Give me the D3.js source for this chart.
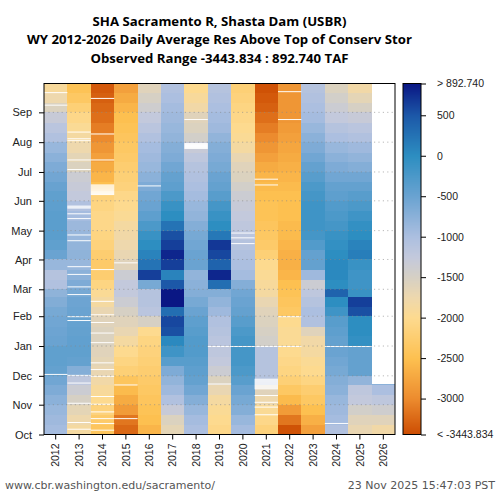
<!DOCTYPE html>
<html>
<head>
<meta charset="utf-8">
<script src="https://cdn.jsdelivr.net/npm/d3@7"></script>
<style>
  body { margin: 0; background: #fff; }
  svg { display: block; font-family: "DejaVu Sans", sans-serif; }
</style>
</head>
<body>
<script>
// Water years shown as columns
const years = [2012, 2013, 2014, 2015, 2016, 2017, 2018, 2019, 2020, 2021, 2022, 2023, 2024, 2025, 2026];
const months = ["Oct", "Nov", "Dec", "Jan", "Feb", "Mar", "Apr", "May", "Jun", "Jul", "Aug", "Sep"];
const monthDays = [31, 30, 31, 31, 28, 31, 30, 31, 30, 31, 31, 30];

// Res above top of conservation storage (TAF), one value per 10-day period (Oct 1-10 ... Sep 21-30)
const v2012 = [-950, -900, -850, -750, -650, -550, -450, -420, -420, -500, -520, -550, -600, -680, -780, -1050, -1100, -850, -500, -420, -380, -380, -380, -400, -420, -480, -560, -650, -750, -850, -1050, -1150, -1300, -1550, -1750, -1900];
const v2013 = [-1850, -1750, -1650, -1500, -1350, -1200, -700, -450, -420, -430, -450, -470, -500, -520, -600, -650, -750, -850, -780, -800, -850, -880, -950, -1050, -1250, -1300, -1350, -1550, -1650, -1750, -1850, -1950, -2050, -2200, -2350, -2450];
const v2014 = [-2400, -2300, -2150, -2000, -1900, -1800, -1700, -1650, -1600, -1550, -1550, -1600, -1700, -1850, -1950, -2100, -2250, -2300, -2250, -2150, -2100, -2050, -2050, -2100, -2150, -2500, -2600, -2700, -2800, -2900, -3000, -3100, -3200, -3250, -3300, -3350];
const v2015 = [-3250, -3150, -2850, -2700, -2550, -2400, -2200, -2100, -2000, -1850, -1700, -1600, -1500, -1350, -1250, -1250, -1350, -1600, -1700, -1750, -1800, -1850, -1950, -2000, -2050, -2150, -2200, -2250, -2300, -2350, -2400, -2450, -2500, -2600, -2700, -2800];
const v2016 = [-2600, -2500, -2450, -2400, -2350, -2300, -2250, -2200, -2150, -2100, -2000, -1500, -1150, -1100, -1100, -600, 650, 250, 100, 0, -100, -250, -400, -500, -550, -650, -750, -850, -900, -950, -1050, -1150, -1250, -1400, -1500, -1600];
const v2017 = [-1650, -1550, -1300, -1050, -900, -800, -650, -350, -150, 50, 550, 600, 300, 900, 900, 500, 100, 650, 800, 650, 550, 250, 0, -100, -250, -400, -450, -550, -650, -700, -800, -850, -900, -950, -1000, -1050];
const v2018 = [-1000, -950, -850, -700, -550, -450, -400, -350, -300, -300, -350, -400, -500, -600, -700, -750, -800, -500, -500, -550, -600, -700, -800, -850, -950, -1000, -1050, -1100, -1200, -1300, -1450, -1550, -1600, -1800, -1900, -2000];
const v2019 = [-2050, -2000, -1950, -1850, -1700, -1550, -1350, -1250, -1200, -1150, -1100, -1050, -900, -800, -700, 300, 800, 400, 600, 700, 200, 0, -100, -200, -350, -450, -500, -600, -650, -700, -800, -900, -950, -1000, -1050, -1100];
const v2020 = [-950, -850, -700, -600, -500, -350, -250, -200, -200, -200, -250, -350, -450, -500, -550, -700, -950, -1000, -1050, -1100, -1150, -1200, -1250, -1300, -1350, -1450, -1550, -1600, -1700, -1850, -1950, -2000, -2050, -2100, -2150, -2200];
const v2021 = [-2150, -2050, -1950, -1750, -1600, -1100, -1100, -1100, -1100, -1450, -1500, -1550, -1600, -1700, -1850, -1900, -1950, -2000, -2200, -2300, -2350, -2400, -2450, -2450, -2500, -2550, -2600, -2700, -2800, -2900, -3000, -3100, -3200, -3300, -3350, -3400];
const v2022 = [-3400, -3150, -2850, -2550, -2350, -2200, -2100, -2050, -2000, -1950, -1950, -2000, -2350, -2400, -2450, -2500, -2600, -2650, -2650, -2600, -2550, -2550, -2500, -2500, -2500, -2550, -2600, -2650, -2700, -2750, -2800, -2850, -2900, -2900, -2900, -2900];
const v2023 = [-2800, -2650, -2500, -2350, -2250, -2100, -2000, -1950, -1850, -1800, -1600, -1050, -1000, -1100, -1200, -1350, -900, -450, -450, -300, -200, -150, -150, -150, -200, -250, -350, -450, -550, -650, -750, -850, -950, -1000, -1050, -1100];
const v2024 = [-1050, -950, -900, -850, -750, -700, -600, -550, -500, -450, -400, -350, -150, 0, 400, 0, 50, 50, 0, -50, -100, -200, -250, -300, -400, -450, -550, -650, -750, -850, -1000, -1100, -1250, -1350, -1450, -1550];
const v2025 = [-1700, -1600, -1450, -1250, -1200, -800, -450, -450, -450, -50, 0, 0, 550, 650, -100, -150, -150, -100, 150, 100, 0, -50, -150, -250, -350, -450, -550, -700, -800, -900, -1050, -1150, -1300, -1500, -1650, -1800];
const v2026 = [-1800, -1600, -1400, -1200, -1000, -750];
const series = [v2012, v2013, v2014, v2015, v2016, v2017, v2018, v2019, v2020, v2021, v2022, v2023, v2024, v2025, v2026];
const lastDay2026 = 52; // data through Nov 21

// missing days (day of water year, 0 = Oct 1)
const gaps = [
  [62, 342, 355],
  [5, 12, 32, 53, 61, 118, 122, 145, 153, 166, 174, 201, 207, 224, 229, 235, 236, 237, 275, 285, 305, 307, 314],
  [4, 11, 16, 23, 31, 39, 60, 67, 74, 95, 105, 116, 124, 138, 171, 249, 250, 251, 252, 253, 254, 255, 256, 257, 258, 259, 285, 312, 349],
  [16, 51, 178],
  [258],
  [],
  [297, 298, 299, 300, 301, 302, 327],
  [52, 91],
  [91, 198, 204, 209],
  [20, 28, 33, 40, 47, 48, 49, 50, 51, 52, 53, 54, 55, 56, 57, 91, 259, 265],
  [91, 122, 327, 356],
  [],
  [11, 91],
  [91],
  []
];

const valueMin = -3443.834, valueMax = 892.740;
const colorTicks = [500, 0, -500, -1000, -1500, -2000, -2500, -3000];
const colorStops = [-3443.834, -3000, -2500, -2000, -1750, -1500, -1250, -1000, -500, 0, 500, 892.740];
const colorRamp = ["#cc4c02", "#ec8b2e", "#fdc050", "#fdda8f", "#eed8ad", "#d6d0c4", "#c3c9dc", "#acbfe0", "#6aa3d1", "#2d8ec1", "#1c58a8", "#0a1784"];

const svg = d3.select("body").append("svg").attr("width", 500).attr("height", 500);
const plot = { left: 44, right: 395, top: 83.5, bottom: 434.5 };

const x = d3.scaleBand().domain(years).range([plot.left, plot.right]);
const y = d3.scaleLinear().domain([0, 365]).range([plot.bottom, plot.top]);
const color = d3.scaleLinear().domain(colorStops).range(colorRamp).clamp(true);

// month start days
const monthStart = [];
monthDays.reduce((acc, d) => { monthStart.push(acc); return acc + d; }, 0);

// build cells
const cells = [];
series.forEach((vals, i) => {
  const yr = years[i];
  const limit = yr === 2026 ? lastDay2026 : 365;
  vals.forEach((v, j) => {
    const m = Math.floor(j / 3), k = j % 3;
    const start = monthStart[m] + k * 10;
    let end = k < 2 ? start + 10 : monthStart[m] + monthDays[m];
    end = Math.min(end, limit);
    if (end > start) cells.push({ yr, start, end, v });
  });
});

svg.append("g").selectAll("rect").data(cells).enter().append("rect")
  .attr("x", d => x(d.yr))
  .attr("y", d => y(d.end))
  .attr("width", x.bandwidth())
  .attr("height", d => y(d.start) - y(d.end))
  .attr("fill", d => color(d.v))
  .attr("shape-rendering", "crispEdges");

// missing days in white
const gapCells = [];
gaps.forEach((list, i) => list.forEach(d => gapCells.push({ yr: years[i], d })));
svg.append("g").selectAll("rect").data(gapCells).enter().append("rect")
  .attr("x", d => x(d.yr))
  .attr("y", d => y(d.d + 1))
  .attr("width", x.bandwidth())
  .attr("height", d => y(d.d) - y(d.d + 1))
  .attr("fill", "#fff");

// dotted month grid
svg.append("g").selectAll("line").data(monthStart.slice(1)).enter().append("line")
  .attr("x1", plot.left).attr("x2", plot.right)
  .attr("y1", d => y(d)).attr("y2", d => y(d))
  .attr("stroke", "#888").attr("stroke-opacity", 0.6)
  .attr("stroke-dasharray", "1.2,3.2");

// frame
svg.append("rect").attr("x", plot.left).attr("y", plot.top)
  .attr("width", plot.right - plot.left).attr("height", plot.bottom - plot.top)
  .attr("fill", "none").attr("stroke", "#000");

// axes
const yAxis = d3.axisLeft(y).tickValues(monthStart).tickFormat((d, i) => months[i]).tickSize(5).tickPadding(7);
svg.append("g").attr("transform", `translate(${plot.left},0)`).call(yAxis)
  .call(g => g.select(".domain").remove())
  .selectAll("text").style("font-size", "11px").attr("fill", "#222");

const xAxis = d3.axisBottom(x).tickSize(5).tickPadding(8);
svg.append("g").attr("transform", `translate(0,${plot.bottom})`).call(xAxis)
  .call(g => g.select(".domain").remove())
  .selectAll("text")
  .style("font-size", "10.5px").attr("fill", "#222")
  .attr("text-anchor", "end")
  .attr("transform", "rotate(-90)")
  .attr("x", -9).attr("y", 0).attr("dy", "0.35em");

// colorbar
const cb = { left: 403, width: 18 };
const yc = d3.scaleLinear().domain([valueMin, valueMax]).range([plot.bottom, plot.top]);
const steps = d3.range(0, 351);
svg.append("g").selectAll("rect").data(steps).enter().append("rect")
  .attr("x", cb.left).attr("width", cb.width)
  .attr("y", d => plot.top + d).attr("height", 1.2)
  .attr("fill", d => color(yc.invert(plot.top + d + 0.5)))
  .attr("shape-rendering", "crispEdges");
svg.append("rect").attr("x", cb.left).attr("y", plot.top)
  .attr("width", cb.width).attr("height", plot.bottom - plot.top)
  .attr("fill", "none").attr("stroke", "#000");

const cAxis = d3.axisRight(yc)
  .tickValues([valueMax, ...colorTicks, valueMin])
  .tickFormat(d => d === valueMax ? "> 892.740" : d === valueMin ? "< -3443.834" : d)
  .tickSize(5).tickPadding(11);
svg.append("g").attr("transform", `translate(${cb.left + cb.width},0)`).call(cAxis)
  .call(g => g.select(".domain").remove())
  .selectAll("text").style("font-size", "10.5px").attr("fill", "#222");

// title
const titles = ["SHA Sacramento R, Shasta Dam (USBR)",
  "WY 2012-2026 Daily Average Res Above Top of Conserv Stor",
  "Observed Range -3443.834 : 892.740 TAF"];
svg.append("g").selectAll("text").data(titles).enter().append("text")
  .attr("x", (plot.left + plot.right) / 2)
  .attr("y", (d, i) => 25.5 + i * 18.5)
  .attr("text-anchor", "middle")
  .style("font-family", "'Open Sans', sans-serif")
  .style("font-weight", "bold").style("font-size", "13.2px")
  .text(d => d);

// footer
svg.append("text").attr("x", 5).attr("y", 489)
  .style("font-size", "11px").attr("fill", "#555")
  .text("www.cbr.washington.edu/sacramento/");
svg.append("text").attr("x", 495).attr("y", 489).attr("text-anchor", "end")
  .style("font-size", "11px").attr("fill", "#555")
  .text("23 Nov 2025 15:47:03 PST");
</script>
</body>
</html>
